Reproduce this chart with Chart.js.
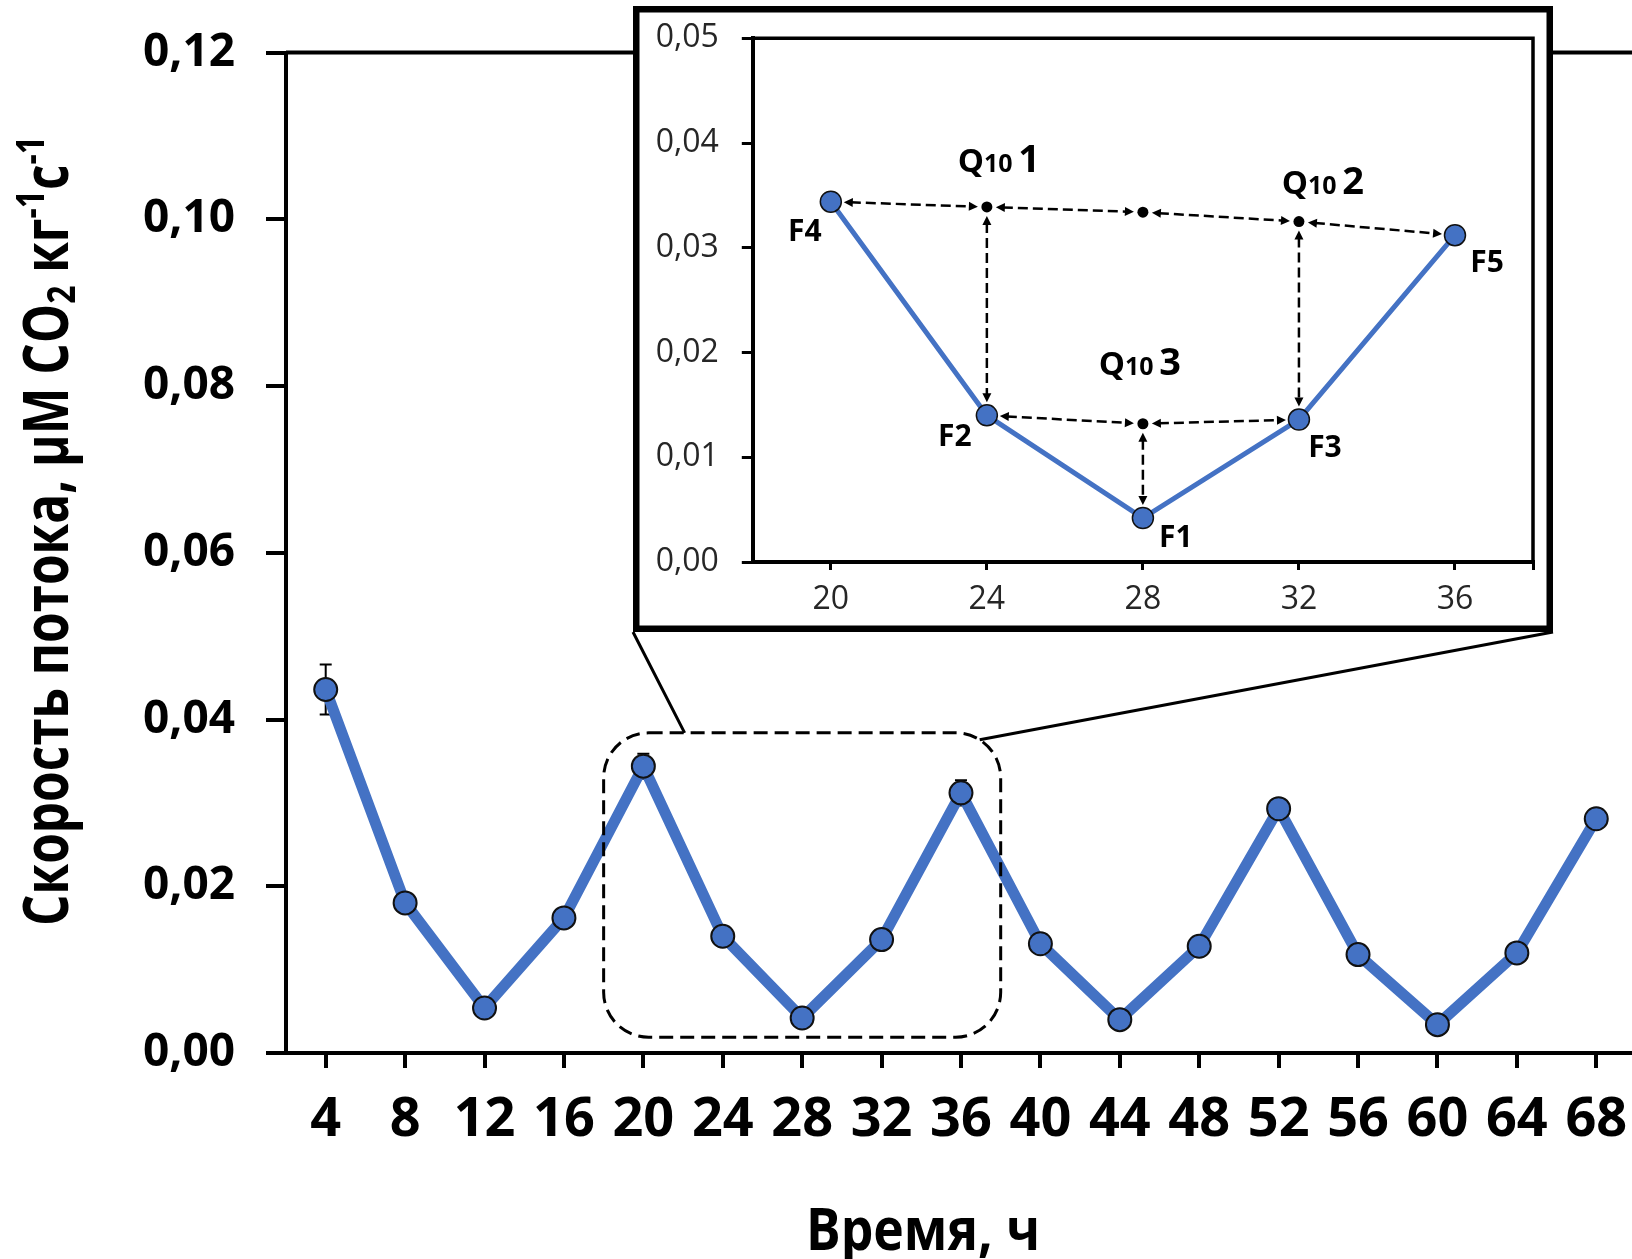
<!DOCTYPE html>
<html>
<head>
<meta charset="utf-8">
<script src="https://cdn.jsdelivr.net/npm/chart.js@4.4.1/dist/chart.umd.min.js"></script>
<style>
html, body { margin: 0; padding: 0; background: #fff; overflow: hidden; }
#wrap { position: relative; width: 1632px; height: 1259px; }
#main { position: absolute; left: 0; top: 0; }
#inset { position: absolute; }
</style>
</head>
<body>
<div id="wrap">
  <canvas id="main" width="1632" height="1259"></canvas>
  <canvas id="inset" width="920" height="626"></canvas>
</div>
<script>
/* main series */
var times = [4, 8, 12, 16, 20, 24, 28, 32, 36, 40, 44, 48, 52, 56, 60, 64, 68];
var fluxValues = [0.0436, 0.0180, 0.0054, 0.0162, 0.0344, 0.0140, 0.0042, 0.0136, 0.0312,
                  0.0131, 0.0040, 0.0128, 0.0293, 0.0118, 0.0034, 0.0120, 0.0281];
var fluxErrors = [0.0030, 0.0008, 0.0006, 0.0008, 0.0015, 0.0008, 0.0005, 0.0008, 0.0015,
                  0.0008, 0.0005, 0.0008, 0.0010, 0.0008, 0.0005, 0.0008, 0.0010];
var yTicks = [0, 0.02, 0.04, 0.06, 0.08, 0.10, 0.12];

/* inset: zoomed part of the same series */
var zoomRange = [18, 38];
var insetTimes = [20, 24, 28, 32, 36];
var insetTicks = [0, 0.01, 0.02, 0.03, 0.04, 0.05];
var pointNames = ['F4', 'F2', 'F1', 'F3', 'F5'];
var helperNames = ['D1', 'D2', 'D3', 'D4'];
var helperTimes = [24, 28, 32, 28];
var helperValues = [0.0339, 0.0334, 0.0325, 0.0132];
var arrowLinks = [['F4', 'D1'], ['D1', 'D2'], ['D2', 'D3'], ['D3', 'F5'],
                  ['D1', 'F2'], ['D3', 'F3'],
                  ['F2', 'D4'], ['D4', 'F3'], ['D4', 'F1']];
var q10Names = ['1', '2', '3'];
var q10Anchors = ['D1', 'D3', 'D4'];

var insetValues = insetTimes.map(function(t) { return fluxValues[times.indexOf(t)]; });

var BLUE = '#4472C4';
var FONT = '"Open Sans", "Noto Sans", sans-serif';
var insetBox = { left: 633, top: 6, width: 920, height: 626 };

function fmt(v) { return v.toFixed(2).replace('.', ','); }

/* text made of pieces with their own size and shift (sub/superscripts) */
function drawRich(ctx, parts, x, y, fitWidth) {
    var total = 0;
    parts.forEach(function(p) {
        ctx.font = 'bold ' + p[1] + 'px ' + FONT;
        p.w = ctx.measureText(p[0]).width;
        total += p.w;
    });
    var k = fitWidth ? fitWidth / total : 1;
    ctx.save();
    ctx.translate(x, y);
    ctx.scale(k, 1);
    ctx.textAlign = 'left';
    ctx.textBaseline = 'alphabetic';
    ctx.fillStyle = '#000';
    var cx = -total / 2;
    parts.forEach(function(p) {
        ctx.font = 'bold ' + p[1] + 'px ' + FONT;
        ctx.fillText(p[0], cx, p[2]);
        cx += p.w;
    });
    ctx.restore();
}

/* chart.js adds tick padding to the end paddings; the layout here is fixed */
function noEndPadding(s) {
    s.paddingTop = 0; s.paddingBottom = 0;
    s.paddingLeft = 0; s.paddingRight = 0;
}

var mainDecor = {
    id: 'mainDecor',
    beforeDatasetsDraw: function(chart) {
        var ctx = chart.ctx, xs = chart.scales.x, ys = chart.scales.y;
        ctx.save();
        ctx.strokeStyle = '#000';
        ctx.lineWidth = 2;
        for (var i = 0; i < times.length; i++) {
            var px = xs.getPixelForValue(times[i]);
            var top = ys.getPixelForValue(fluxValues[i] + fluxErrors[i]);
            var bot = ys.getPixelForValue(fluxValues[i] - fluxErrors[i]);
            ctx.beginPath();
            ctx.moveTo(px, top); ctx.lineTo(px, bot);
            ctx.moveTo(px - 6, top); ctx.lineTo(px + 6, top);
            ctx.moveTo(px - 6, bot); ctx.lineTo(px + 6, bot);
            ctx.stroke();
        }
        ctx.restore();
    },
    afterDatasetsDraw: function(chart) {
        var ctx = chart.ctx, xs = chart.scales.x, ys = chart.scales.y;
        var l = xs.getPixelForValue(zoomRange[0]), r = xs.getPixelForValue(zoomRange[1]);
        var t = ys.getPixelForValue(0.0384), b = ys.getPixelForValue(0.0019);
        ctx.save();
        // dashed frame round the zoomed part
        ctx.strokeStyle = '#000';
        ctx.lineWidth = 3;
        ctx.setLineDash([14, 7]);
        ctx.beginPath();
        ctx.roundRect(l, t, r - l, b - t, 45);
        ctx.stroke();
        // connectors to the inset
        ctx.setLineDash([]);
        ctx.lineWidth = 3;
        var by = insetBox.top + insetBox.height;
        ctx.beginPath();
        ctx.moveTo(insetBox.left, by);
        ctx.lineTo(l + 81, t);
        ctx.moveTo(insetBox.left + insetBox.width, by);
        ctx.lineTo(r - 21, t + 7);
        ctx.stroke();
        ctx.restore();
    },
    afterDraw: function(chart) {
        var ctx = chart.ctx, a = chart.chartArea;
        ctx.save();
        ctx.strokeStyle = '#000';
        ctx.lineWidth = 4;
        ctx.beginPath();
        ctx.moveTo(a.left, a.top);
        ctx.lineTo(a.right, a.top);
        ctx.stroke();
        ctx.restore();

        drawRich(ctx, [['Время, ч', 59, 0]], 923, 1250, 234);

        ctx.save();
        ctx.translate(68, 531);
        ctx.rotate(-Math.PI / 2);
        drawRich(ctx, [
            ['Скорость потока, µM CO', 62, 0],
            ['2', 40, 7],
            [' кг', 62, 0],
            ['-1', 40, -24],
            ['с', 62, 0],
            ['-1', 40, -24]
        ], 0, 0, 790);
        ctx.restore();
    }
};

new Chart(document.getElementById('main'), {
    type: 'line',
    data: {
        datasets: [{
            data: times.map(function(t, i) { return { x: t, y: fluxValues[i] }; }),
            borderColor: BLUE,
            borderWidth: 11,
            borderJoinStyle: 'round',
            backgroundColor: BLUE,
            pointBackgroundColor: BLUE,
            pointBorderColor: '#111',
            pointBorderWidth: 2,
            pointRadius: 11.5,
            tension: 0
        }]
    },
    options: {
        responsive: false,
        animation: false,
        devicePixelRatio: 1,
        layout: { autoPadding: false, padding: { top: 52.5, left: 0, right: 0, bottom: 0 } },
        plugins: { legend: { display: false }, tooltip: { enabled: false } },
        scales: {
            x: {
                type: 'linear',
                min: 2,
                max: 69.8,
                afterBuildTicks: function(s) { s.ticks = times.map(function(v) { return { value: v }; }); },
                afterFit: function(s) { s.height = 206; noEndPadding(s); },
                grid: { drawOnChartArea: false, tickLength: 15, lineWidth: 4, color: '#000' },
                border: { color: '#000', width: 4 },
                ticks: {
                    autoSkip: false,
                    maxRotation: 0,
                    padding: 20,
                    color: '#000',
                    font: { family: FONT, weight: 'bold', size: 54 },
                    callback: function(v) { return String(v); }
                }
            },
            y: {
                min: 0,
                max: 0.12,
                afterBuildTicks: function(s) { s.ticks = yTicks.map(function(v) { return { value: v }; }); },
                afterFit: function(s) { s.width = 286; noEndPadding(s); },
                grid: { drawOnChartArea: false, tickLength: 20, lineWidth: 4, color: '#000' },
                border: { color: '#000', width: 4 },
                ticks: {
                    padding: 31,
                    color: '#000',
                    font: { family: FONT, weight: 'bold', size: 46 },
                    callback: function(v) { return fmt(v); }
                }
            }
        }
    },
    plugins: [mainDecor]
});

/* ---------- inset ---------- */
var insetCanvas = document.getElementById('inset');
insetCanvas.style.left = insetBox.left + 'px';
insetCanvas.style.top = insetBox.top + 'px';

var labelOffsets = { F4: [-26, 31], F2: [-32, 22], F1: [33, 20], F3: [26, 29], F5: [32, 28] };
var q10Offsets = [[12, -35], [24, -28], [-3, -49]];

function nodePixel(chart, name) {
    var xs = chart.scales.x, ys = chart.scales.y;
    var i = pointNames.indexOf(name);
    if (i >= 0) return { x: xs.getPixelForValue(insetTimes[i]), y: ys.getPixelForValue(insetValues[i]), gap: 13 };
    i = helperNames.indexOf(name);
    return { x: xs.getPixelForValue(helperTimes[i]), y: ys.getPixelForValue(helperValues[i]), gap: 9 };
}

function arrowHead(ctx, x, y, ux, uy) {
    ctx.beginPath();
    ctx.moveTo(x, y);
    ctx.lineTo(x - ux * 9 - uy * 4.5, y - uy * 9 + ux * 4.5);
    ctx.lineTo(x - ux * 9 + uy * 4.5, y - uy * 9 - ux * 4.5);
    ctx.closePath();
    ctx.fill();
}

var insetDecor = {
    id: 'insetDecor',
    beforeDraw: function(chart) {
        var ctx = chart.ctx;
        ctx.save();
        ctx.fillStyle = '#fff';
        ctx.fillRect(0, 0, chart.width, chart.height);
        ctx.restore();
    },
    afterDatasetsDraw: function(chart) {
        var ctx = chart.ctx;
        ctx.save();
        ctx.strokeStyle = '#000';
        ctx.fillStyle = '#000';
        ctx.lineWidth = 2.5;
        arrowLinks.forEach(function(link) {
            var a = nodePixel(chart, link[0]), b = nodePixel(chart, link[1]);
            var dx = b.x - a.x, dy = b.y - a.y, len = Math.sqrt(dx * dx + dy * dy);
            var ux = dx / len, uy = dy / len;
            var sx = a.x + ux * a.gap, sy = a.y + uy * a.gap;
            var ex = b.x - ux * b.gap, ey = b.y - uy * b.gap;
            ctx.setLineDash([10, 5]);
            ctx.beginPath();
            ctx.moveTo(sx + ux * 7, sy + uy * 7);
            ctx.lineTo(ex - ux * 7, ey - uy * 7);
            ctx.stroke();
            ctx.setLineDash([]);
            arrowHead(ctx, sx, sy, -ux, -uy);
            arrowHead(ctx, ex, ey, ux, uy);
        });
        helperNames.forEach(function(n) {
            var p = nodePixel(chart, n);
            ctx.beginPath();
            ctx.arc(p.x, p.y, 5.5, 0, Math.PI * 2);
            ctx.fill();
        });
        ctx.restore();
    },
    afterDraw: function(chart) {
        var ctx = chart.ctx, a = chart.chartArea;
        ctx.save();
        // plot box top and right
        ctx.strokeStyle = '#000';
        ctx.lineWidth = 3.5;
        ctx.beginPath();
        ctx.moveTo(a.left, a.top);
        ctx.lineTo(a.right, a.top);
        ctx.lineTo(a.right, a.bottom);
        ctx.stroke();
        // outer frame
        ctx.lineWidth = 6.5;
        ctx.strokeRect(3.25, 3.25, chart.width - 6.5, chart.height - 6.5);
        // point names
        ctx.fillStyle = '#000';
        ctx.textAlign = 'center';
        ctx.textBaseline = 'middle';
        ctx.font = 'bold 30px ' + FONT;
        pointNames.forEach(function(n) {
            var p = nodePixel(chart, n), o = labelOffsets[n];
            ctx.fillText(n, p.x + o[0], p.y + o[1]);
        });
        ctx.restore();
        q10Names.forEach(function(q, i) {
            var p = nodePixel(chart, q10Anchors[i]), o = q10Offsets[i];
            drawRich(ctx, [['Q', 33, 0], ['10', 25, 0], [' ', 22, 0], [q, 38, 0]], p.x + o[0], p.y + o[1]);
        });
    }
};

new Chart(insetCanvas, {
    type: 'line',
    data: {
        datasets: [{
            data: insetTimes.map(function(t, i) { return { x: t, y: insetValues[i] }; }),
            borderColor: BLUE,
            borderWidth: 5,
            backgroundColor: BLUE,
            pointBackgroundColor: BLUE,
            pointBorderColor: '#111',
            pointBorderWidth: 1.5,
            pointRadius: 10.5,
            tension: 0
        }]
    },
    options: {
        responsive: false,
        animation: false,
        devicePixelRatio: 1,
        layout: { autoPadding: false, padding: { top: 32.3, left: 0, right: 20, bottom: 0 } },
        plugins: { legend: { display: false }, tooltip: { enabled: false } },
        scales: {
            x: {
                type: 'linear',
                min: zoomRange[0],
                max: zoomRange[1],
                afterBuildTicks: function(s) {
                    s.ticks = insetTimes.concat([zoomRange[1]]).map(function(v) { return { value: v }; });
                },
                afterFit: function(s) { s.height = 70; noEndPadding(s); },
                grid: { drawOnChartArea: false, tickLength: 8, lineWidth: 3, color: '#000' },
                border: { color: '#000', width: 4 },
                ticks: {
                    autoSkip: false,
                    maxRotation: 0,
                    padding: 11,
                    color: '#262626',
                    font: { family: FONT, size: 32 },
                    callback: function(v) { return insetTimes.indexOf(v) >= 0 ? String(v) : ''; }
                }
            },
            y: {
                min: 0,
                max: 0.05,
                afterBuildTicks: function(s) { s.ticks = insetTicks.map(function(v) { return { value: v }; }); },
                afterFit: function(s) { s.width = 119.8; noEndPadding(s); },
                grid: { drawOnChartArea: false, tickLength: 11, lineWidth: 3, color: '#000' },
                border: { color: '#000', width: 4 },
                ticks: {
                    padding: 23,
                    color: '#262626',
                    font: { family: FONT, size: 32 },
                    callback: function(v) { return fmt(v); }
                }
            }
        }
    },
    plugins: [insetDecor]
});
</script>
</body>
</html>
